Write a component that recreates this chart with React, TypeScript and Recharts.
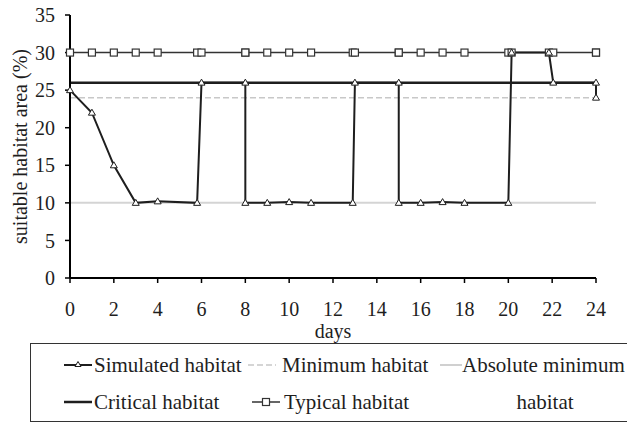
import React from 'react';
import { LineChart, Line, XAxis, YAxis } from 'recharts';

// days at which the simulation reports a value (steps appear as near-duplicate x)
const days = [0, 1, 2, 3, 4, 5.8, 6, 8, 8, 9, 10, 11, 12.9, 13, 15, 15, 16, 17, 18, 20, 20.15, 21.85, 22.05, 24, 24];
const simulated = [25, 22, 15, 10, 10.2, 10, 26, 26, 10, 10, 10.1, 10, 10, 26, 26, 10, 10, 10.1, 10, 10, 30, 30, 26, 26, 24];
const typical = [30, 30, 30, 30, 30, 30, 30, 30, 30, 30, 30, 30, 30, 30, 30, 30, 30, 30, 30, 30, 30, 30, 30, 30, 30];
const critical = 26;
const minimum = 24;
const absoluteMinimum = 10;

const xTicks = [0, 2, 4, 6, 8, 10, 12, 14, 16, 18, 20, 22, 24];
const yTicks = [0, 5, 10, 15, 20, 25, 30, 35];

const rows = days.map((d, i) => ({
    day: d,
    simulated: simulated[i],
    typical: typical[i],
    critical,
    minimum,
    absoluteMinimum,
}));

const FONT = '"Liberation Serif", "Times New Roman", Times, serif';
const INK = '#1e1e1e';

const TriangleDot = (props: any) => {
    const { cx, cy, index } = props;
    if (cx == null || cy == null) return null;
    return (
        <path
            key={`tri-${index}`}
            d={`M${cx},${cy - 3.5}L${cx + 3.5},${cy + 2.5}L${cx - 3.5},${cy + 2.5}Z`}
            fill="#fff"
            stroke={INK}
            strokeWidth={1}
        />
    );
};

const SquareDot = (props: any) => {
    const { cx, cy, index } = props;
    if (cx == null || cy == null) return null;
    return (
        <rect key={`sq-${index}`} x={cx - 3.5} y={cy - 3.5} width={7} height={7} fill="#fff" stroke="#333" strokeWidth={1.2} />
    );
};

const Swatch = ({ kind }: { kind: string }) => {
    return (
        <svg width={28} height={12} style={{ display: 'block' }}>
            {kind === 'simulated' && (
                <>
                    <line x1={0} y1={6} x2={28} y2={6} stroke={INK} strokeWidth={2} />
                    <path d="M14,2.5L17,7.5L11,7.5Z" fill="#fff" stroke={INK} strokeWidth={1} />
                </>
            )}
            {kind === 'critical' && <line x1={0} y1={6} x2={28} y2={6} stroke={INK} strokeWidth={2.5} />}
            {kind === 'minimum' && <line x1={0} y1={6} x2={28} y2={6} stroke="#c8c8c8" strokeWidth={1.5} strokeDasharray="6 3" />}
            {kind === 'absolute' && <line x1={0} y1={6} x2={22} y2={6} stroke="#d0d0d0" strokeWidth={2} />}
            {kind === 'typical' && (
                <>
                    <line x1={0} y1={6} x2={28} y2={6} stroke="#333" strokeWidth={1.5} />
                    <rect x={10.5} y={2.5} width={7} height={7} fill="#fff" stroke="#333" strokeWidth={1.2} />
                </>
            )}
        </svg>
    );
};

const legendText: React.CSSProperties = {
    position: 'absolute',
    fontSize: 21,
    lineHeight: '24px',
    color: INK,
    whiteSpace: 'nowrap',
    fontFamily: FONT,
};

const HabitatLegend = () => (
    <div
        style={{
            position: 'absolute',
            left: 30,
            top: 343,
            width: 640,
            height: 79,
            border: '1.5px solid #333',
            boxSizing: 'border-box',
        }}
    >
        <div style={{ position: 'absolute', left: 33, top: 15 }}><Swatch kind="simulated" /></div>
        <div style={{ ...legendText, left: 63, top: 9 }}>Simulated habitat</div>
        <div style={{ position: 'absolute', left: 217, top: 15 }}><Swatch kind="minimum" /></div>
        <div style={{ ...legendText, left: 251, top: 9 }}>Minimum habitat</div>
        <div style={{ position: 'absolute', left: 409, top: 15 }}><Swatch kind="absolute" /></div>
        <div style={{ ...legendText, left: 431, top: 9 }}>Absolute minimum</div>

        <div style={{ position: 'absolute', left: 33, top: 52 }}><Swatch kind="critical" /></div>
        <div style={{ ...legendText, left: 63, top: 46 }}>Critical habitat</div>
        <div style={{ position: 'absolute', left: 221, top: 52 }}><Swatch kind="typical" /></div>
        <div style={{ ...legendText, left: 253, top: 46 }}>Typical habitat</div>
        <div style={{ ...legendText, left: 431, top: 46, width: 166, textAlign: 'center' }}>habitat</div>
    </div>
);

const App: React.FC = () => {
    const tickStyle = { fill: INK, fontSize: 20, fontFamily: FONT };
    return (
        <div
            style={{
                position: 'fixed',
                left: 0,
                top: 0,
                width: 627,
                height: 424,
                overflow: 'hidden',
                background: '#fff',
                fontFamily: FONT,
            }}
        >
            <LineChart width={627} height={345} data={rows} margin={{ top: 15, right: 31, left: 10, bottom: 0 }}>
                <XAxis
                    dataKey="day"
                    type="number"
                    domain={[0, 24]}
                    ticks={xTicks}
                    interval={0}
                    height={67}
                    tickSize={5}
                    tickMargin={19}
                    tick={tickStyle}
                    axisLine={{ stroke: '#000', strokeWidth: 2 }}
                    tickLine={{ stroke: '#000', strokeWidth: 1.5 }}
                    label={{ value: 'days', position: 'insideBottom', offset: 7, fill: INK, fontSize: 20, fontFamily: FONT }}
                />
                <YAxis
                    type="number"
                    domain={[0, 35]}
                    ticks={yTicks}
                    interval={0}
                    width={60}
                    tickSize={5}
                    tickMargin={10}
                    tick={tickStyle}
                    axisLine={{ stroke: '#000', strokeWidth: 2 }}
                    tickLine={{ stroke: '#000', strokeWidth: 1.5 }}
                    label={{
                        value: 'suitable habitat area (%)',
                        angle: -90,
                        position: 'insideLeft',
                        offset: 10,
                        fill: INK,
                        fontSize: 20,
                        fontFamily: FONT,
                        style: { textAnchor: 'middle' },
                    }}
                />
                <Line type="linear" dataKey="absoluteMinimum" stroke="#d4d4d4" strokeWidth={2} dot={false} isAnimationActive={false} />
                <Line type="linear" dataKey="minimum" stroke="#c8c8c8" strokeWidth={1.5} strokeDasharray="6 3" dot={false} isAnimationActive={false} />
                <Line type="linear" dataKey="critical" stroke={INK} strokeWidth={2.5} dot={false} isAnimationActive={false} />
                <Line type="linear" dataKey="typical" stroke="#333" strokeWidth={1.5} dot={SquareDot} isAnimationActive={false} />
                <Line type="linear" dataKey="simulated" stroke={INK} strokeWidth={2} dot={TriangleDot} isAnimationActive={false} />
            </LineChart>
            <HabitatLegend />
        </div>
    );
};

export default App;
